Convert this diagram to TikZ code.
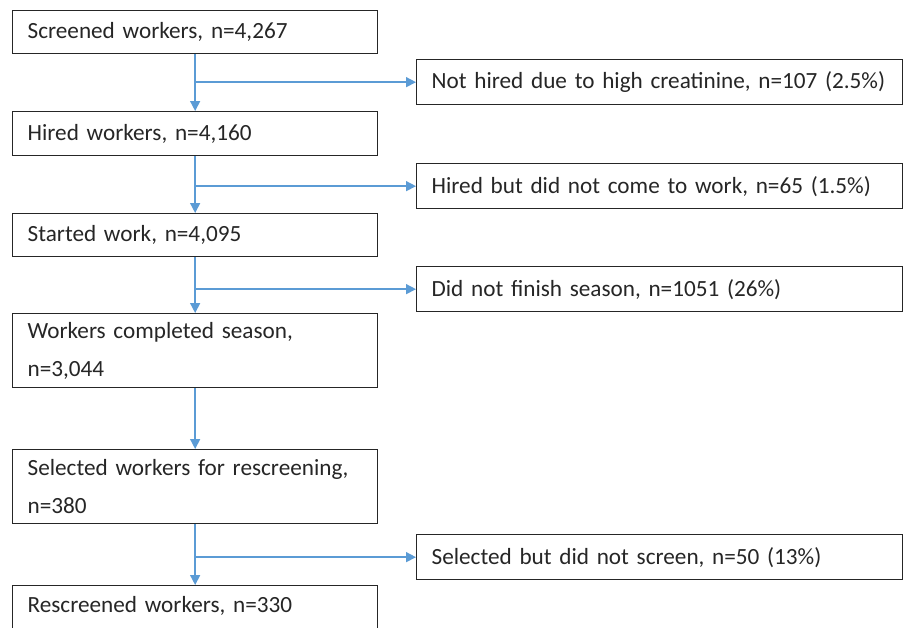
\documentclass[tikz,border=0pt]{standalone}
\usepackage{fontspec}
\setmainfont{Carlito}
\usetikzlibrary{arrows.meta}
\definecolor{flowblue}{RGB}{91,155,213}
\definecolor{boxtext}{RGB}{38,38,38}
\tikzset{
	box/.style={draw=boxtext, line width=1.3pt, anchor=north west, text=boxtext,
		align=left, inner xsep=15pt, font=\fontsize{23.2pt}{38pt}\selectfont},
	mainbox/.style={box, text width=335pt},
	sidebox/.style={box, text width=456pt, minimum height=45pt},
	flow/.style={draw=flowblue, line width=1.4pt, -{Triangle[width=10pt,length=10pt]}}
}
\begin{document}
\begin{tikzpicture}[x=1pt, y=-1pt]
			\useasboundingbox (0,0) rectangle (909,627);
			\clip (0,0) rectangle (909,627);
			\fill[white] (0,0) rectangle (909,627);
			% main column
			\node[mainbox, minimum height=43pt] (screened) at (12,10) {Screened workers, n=4,267};
			\node[mainbox, minimum height=44pt] (hired) at (12,111) {Hired workers, n=4,160};
			\node[mainbox, minimum height=43pt] (started) at (12,213) {Started work, n=4,095};
			\node[mainbox, minimum height=74pt] (completed) at (12,313) {Workers completed season,\\n=3,044};
			\node[mainbox, minimum height=74pt] (selected) at (12,449) {Selected workers for rescreening,\\n=380};
			\node[mainbox, minimum height=60pt, text depth=22pt] (rescreened) at (12,585) {Rescreened workers, n=330};
			% exclusions
			\node[sidebox] (nothired) at (416,59) {Not hired due to high creatinine, n=107 (2.5\%)};
			\node[sidebox] (nocome) at (416,163) {Hired but did not come to work, n=65 (1.5\%)};
			\node[sidebox] (notfinish) at (416,266) {Did not finish season, n=1051 (26\%)};
			\node[sidebox] (noscreen) at (416,534) {Selected but did not screen, n=50 (13\%)};
			% arrows
			\foreach \a/\b in {screened/hired,hired/started,started/completed,completed/selected,selected/rescreened}{
				\draw[flow] (\a.south) -- (\b.north);
			}
			\foreach \a/\b in {screened/nothired,hired/nocome,started/notfinish,selected/noscreen}{
				\draw[flow] (\a.south |- \b.west) -- (\b.west);
			}
		\end{tikzpicture}
\end{document}
